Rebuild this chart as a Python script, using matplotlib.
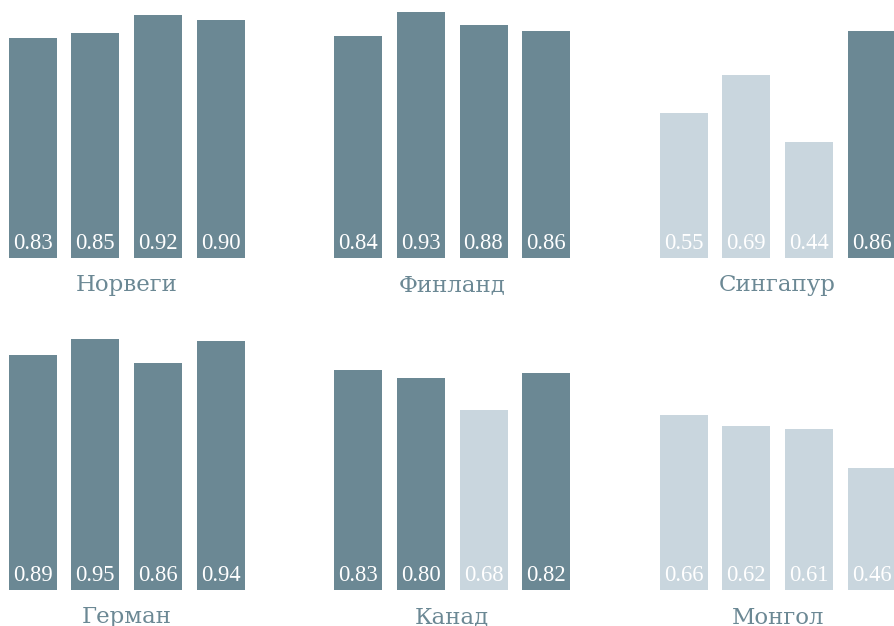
import matplotlib
matplotlib.use("Agg")
import matplotlib.pyplot as plt

countries = ["Норвеги", "Финланд", "Сингапур", "Герман", "Канад", "Монгол"]
values = [
    [0.83, 0.85, 0.92, 0.90],
    [0.84, 0.93, 0.88, 0.86],
    [0.55, 0.69, 0.44, 0.86],
    [0.89, 0.95, 0.86, 0.94],
    [0.83, 0.80, 0.68, 0.82],
    [0.66, 0.62, 0.61, 0.46],
]
threshold = 0.7

DARK = "#6b8894"
LIGHT = "#c9d6de"

W, H = 894, 626
fig = plt.figure(figsize=(W / 100, H / 100), dpi=100)
fig.patch.set_facecolor("white")

step = 62.7
bw = 48.0
col_step = 325.5
base_y = [258, 590]
scale = 264.5  # px per unit

for i, (name, vals) in enumerate(zip(countries, values)):
    r, c = divmod(i, 3)
    x0 = 8.6 + col_step * c
    wpx = 3 * step + bw
    ax = fig.add_axes([x0 / W, (H - base_y[r]) / H, wpx / W, scale / H])
    ax.set_xlim(-bw / step / 2, 3 + bw / step / 2)
    ax.set_ylim(0, 1)
    ax.axis("off")
    xs = range(len(vals))
    cols = [DARK if v >= threshold else LIGHT for v in vals]
    ax.bar(xs, vals, width=bw / step, color=cols, clip_on=False)
    for x, v in zip(xs, vals):
        ax.text(x, 9 / scale, f"{v:.2f}", ha="center", va="baseline",
                color="white", fontsize=16.3, family="Liberation Serif")
    ax.text(1.5, -33.5 / scale, name, ha="center", va="baseline",
            color=DARK, fontsize=16.5, family="DejaVu Serif")

fig.savefig("out.png", dpi=100, facecolor="white")
